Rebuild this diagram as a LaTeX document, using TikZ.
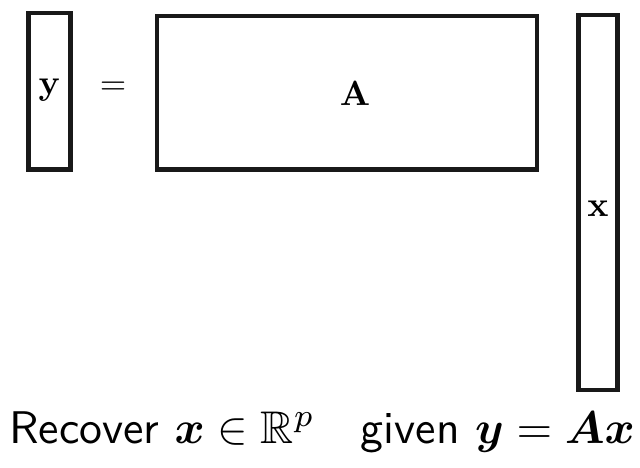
\documentclass[tikz,border=0pt]{standalone}
\usepackage{amsmath,amssymb,bm,graphicx}
\begin{document}
\begin{tikzpicture}[x=1pt,y=-1pt,
  mat/.style={draw=black!90,line width=4.5pt}]
\useasboundingbox (0,0) rectangle (640,468);
\draw[mat] (28.5,13) rectangle (70.5,169.5);
\draw[mat] (157,16) rectangle (537,169.5);
\draw[mat] (578.5,15) rectangle (617.5,390);
\node (ly) at (49.5,90) {\scalebox{3.5}{$\mathbf{y}$}};
\node (eq) at (113,88) {\scalebox{3.4}{$=$}};
\node (lA) at (355,93) {\scalebox{3.5}{$\mathbf{A}$}};
\node (lx) at (598,209) {\scalebox{3.5}{$\mathbf{x}$}};
\node[anchor=base,inner sep=0pt] (cap) at (322,443)
  {\scalebox{4.58}{\sffamily Recover $\bm{x}\in\mathbb{R}^p$\quad given $\bm{y}=\bm{A}\bm{x}$}};
\end{tikzpicture}
\end{document}
